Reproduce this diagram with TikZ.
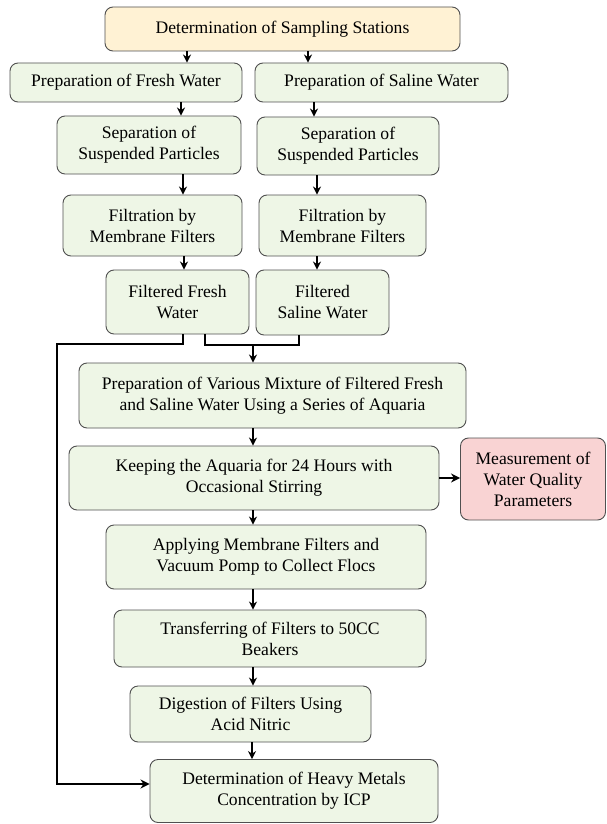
\documentclass[tikz,border=0pt]{standalone}
\usepackage{fontspec}
\setmainfont{Liberation Serif}
\usetikzlibrary{arrows.meta}
\definecolor{boxgreen}{HTML}{EEF6E6}
\definecolor{boxyellow}{HTML}{FFF2D4}
\definecolor{boxpink}{HTML}{F9D3D3}
\definecolor{boxedge}{HTML}{505050}
\begin{document}
\begin{tikzpicture}[x=1pt,y=-1pt,
  box/.style={draw=boxedge, line width=0.9pt, rounded corners=8pt, fill=boxgreen,
    align=center, inner sep=0pt, font=\fontsize{17.6}{21}\selectfont},
  arr/.style={line width=2pt, -{Stealth[length=8pt,width=8pt]}},
  link/.style={line width=2.6pt},
  linkarr/.style={line width=2.6pt, -{Stealth[length=9pt,width=9pt]}}]
\useasboundingbox (0,0) rectangle (607,824);

\node[box, fill=boxyellow, minimum width=355pt, minimum height=44pt] (top) at (282.5,29) {Determination of Sampling Stations};
\node[box, minimum width=232pt, minimum height=39pt] (pf) at (126,82.5) {Preparation of Fresh Water};
\node[box, minimum width=253pt, minimum height=39pt] (ps) at (381.5,82.5) {Preparation of Saline Water};
\node[box, minimum width=184pt, minimum height=58pt] (s1) at (149,145) {Separation of\\Suspended Particles};
\node[box, minimum width=182pt, minimum height=58pt] (s2) at (348,146) {Separation of\\Suspended Particles};
\node[box, minimum width=179pt, minimum height=61pt] (f1) at (152.5,225.5) {Filtration by\\Membrane Filters};
\node[box, minimum width=167pt, minimum height=61pt] (f2) at (342.5,225.5) {Filtration by\\Membrane Filters};
\node[box, minimum width=143pt, minimum height=64pt] (ff) at (177.5,302) {Filtered Fresh\\Water};
\node[box, minimum width=133pt, minimum height=65pt] (fs) at (322.5,302.5) {Filtered\\Saline Water};
\node[box, minimum width=387pt, minimum height=65pt] (mix) at (272.5,395.5) {Preparation of Various Mixture of Filtered Fresh\\and Saline Water Using a Series of Aquaria};
\node[box, minimum width=370pt, minimum height=64pt] (keep) at (254,478) {Keeping the Aquaria for 24 Hours with\\Occasional Stirring};
\node[box, fill=boxpink, minimum width=145pt, minimum height=82pt] (meas) at (533,479) {Measurement of\\Water Quality\\Parameters};
\node[box, minimum width=320pt, minimum height=64pt] (apply) at (266,557) {Applying Membrane Filters and\\Vacuum Pomp to Collect Flocs};
\node[box, minimum width=312pt, minimum height=57pt] (trans) at (270,638.5) {Transferring of Filters to 50CC\\Beakers};
\node[box, minimum width=241pt, minimum height=56pt] (dig) at (250.5,714) {Digestion of Filters Using\\Acid Nitric};
\node[box, minimum width=288pt, minimum height=63pt] (icp) at (294,791) {Determination of Heavy Metals\\Concentration by ICP};

% top to preparations
\draw[arr] (187,0 |- top.south) -- (187,0 |- pf.north);
\draw[arr] (308,0 |- top.south) -- (308,0 |- ps.north);
% fresh branch
\draw[arr] (181,0 |- pf.south) -- (181,0 |- s1.north);
\draw[arr] (183,0 |- s1.south) -- (183,0 |- f1.north);
\draw[arr] (184,0 |- f1.south) -- (184,0 |- ff.north);
% saline branch
\draw[arr] (314,0 |- ps.south) -- (314,0 |- s2.north);
\draw[arr] (317,0 |- s2.south) -- (317,0 |- f2.north);
\draw[arr] (317,0 |- f2.south) -- (317,0 |- fs.north);

% merge of filtered waters
\coordinate (mj) at (253,345);
\draw[link] (205,0 |- ff.south) -- (205,345) -- (299,345) -- (299,0 |- fs.south);
\draw[arr] (mj) -- (mj |- mix.north);

% main chain
\draw[arr] (253,0 |- mix.south) -- (253,0 |- keep.north);
\draw[arr] (253,0 |- keep.south) -- (253,0 |- apply.north);
\draw[arr] (253,0 |- apply.south) -- (253,0 |- trans.north);
\draw[arr] (253,0 |- trans.south) -- (253,0 |- dig.north);
\draw[arr] (252,0 |- dig.south) -- (252,0 |- icp.north);
\draw[linkarr] (keep.east |- 0,478) -- (meas.west |- 0,478);

% bypass to ICP
\draw[linkarr] (183,0 |- ff.south) -- (183,344) -- (57,344) -- (57,784) -- (icp.west |- 0,784);
\end{tikzpicture}
\end{document}
